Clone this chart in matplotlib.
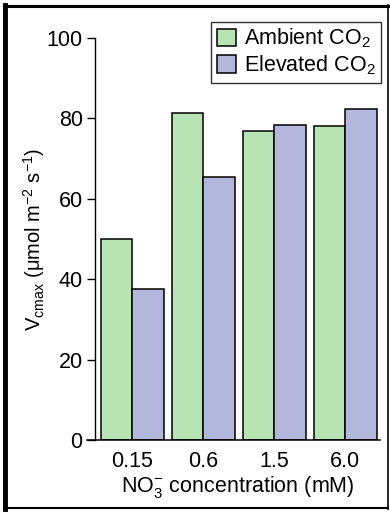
import matplotlib.pyplot as plt
from matplotlib.lines import Line2D

plt.rcParams['font.family'] = ['Liberation Sans', 'DejaVu Sans']
plt.rcParams['mathtext.fontset'] = 'custom'
plt.rcParams['mathtext.rm'] = 'Liberation Sans'
plt.rcParams['mathtext.it'] = 'Liberation Sans:italic'
plt.rcParams['mathtext.default'] = 'regular'

# Vcmax at each nitrate level
nitrate = ['0.15', '0.6', '1.5', '6.0']
ambient = [50.0, 81.3, 76.8, 78.2]
elevated = [37.6, 65.3, 78.3, 82.3]

green = '#b7e4b2'
purple = '#b3b7db'

fig = plt.figure(figsize=(3.9, 5.12), dpi=100)
ax = fig.add_axes([0.244, 0.1406, 0.730, 0.7852])

x = range(len(nitrate))
w = 0.443
ax.bar([i - w / 2 for i in x], ambient, width=w, color=green,
       edgecolor='black', linewidth=1.1, label='Ambient CO$_2$')
ax.bar([i + w / 2 for i in x], elevated, width=w, color=purple,
       edgecolor='black', linewidth=1.1, label='Elevated CO$_2$')

ax.set_xlim(-0.52, 3.49)
ax.set_ylim(0, 100)
ax.set_yticks([0, 20, 40, 60, 80, 100])
ax.set_xticks(list(x))
ax.set_xticklabels(nitrate)
ax.tick_params(axis='y', length=6, width=1, labelsize=15.5, pad=3)
ax.tick_params(axis='x', length=0, labelsize=15.5, pad=8)

for s in ['top', 'right', 'bottom']:
    ax.spines[s].set_visible(False)
ax.spines['left'].set_linewidth(1)
# baseline runs a little past the y axis
ax.plot([-0.03, 1.0], [0, 0], transform=ax.transAxes, color='black',
        lw=1.1, clip_on=False)

ax.set_ylabel(r'V$_{\mathrm{cmax}}$ (μmol m$^{-2}$ s$^{-1}$)', fontsize=14.5,
              labelpad=0)
ax.set_xlabel(r'NO$_3^{-}$ concentration (mM)', fontsize=15.5, labelpad=1)

fig.legend(loc='upper right', bbox_to_anchor=(0.976, 0.958), fontsize=15.5,
           frameon=True, fancybox=False, edgecolor='#333333', framealpha=1,
           handlelength=0.9, handleheight=0.9, handletextpad=0.35,
           borderpad=0.25, labelspacing=0.15, borderaxespad=0)

# frame around the panel
fig.add_artist(Line2D([0.014, 0.014], [0.006, 0.99], color='black', lw=3.5))
fig.add_artist(Line2D([0.01, 0.995], [0.989, 0.989], color='black', lw=2.2))
fig.add_artist(Line2D([0.994, 0.994], [0.006, 0.99], color='black', lw=1.2))
fig.add_artist(Line2D([0.01, 0.995], [0.007, 0.007], color='black', lw=1.5))

fig.savefig('out.png', dpi=100)
